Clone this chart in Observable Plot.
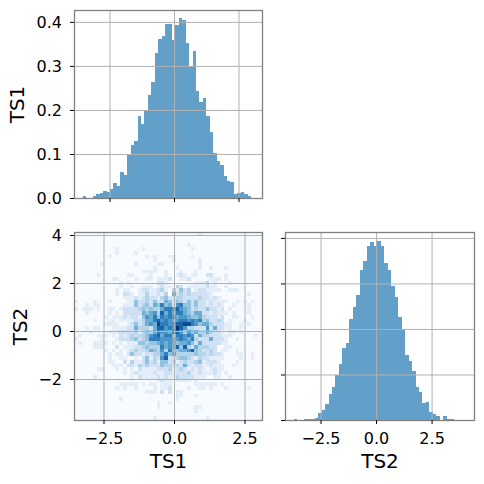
<!DOCTYPE html>
<html>
<head>
<meta charset="utf-8">
<script src="https://cdn.jsdelivr.net/npm/d3@7"></script>
<script src="https://cdn.jsdelivr.net/npm/@observablehq/plot@0.6"></script>
<style>
html,body{margin:0;padding:0;background:#fff;}
#c{position:relative;width:484px;height:484px;overflow:hidden;font-family:"DejaVu Sans";}
#c svg{position:absolute;overflow:visible;background:transparent;}
</style>
</head>
<body>
<div id="c"></div>
<script>
const ts1Density = [.005,0,0,.005,.008,.011,.017,.014,.020,.033,.028,.060,.053,.099,.121,.130,.187,.169,.200,.233,.264,.330,.362,.367,.395,.396,.358,.392,.408,.405,.351,.299,.335,.244,.219,.228,.187,.151,.103,.083,.076,.051,.039,.037,.010,.011,.014,.010,.005,0];
const ts2Density = [.003,0,0,.003,.003,.003,.005,.016,.023,.036,.058,.073,.098,.124,.159,.170,.221,.249,.275,.330,.350,.382,.390,.383,.394,.382,.344,.330,.295,.271,.227,.198,.142,.130,.108,.073,.062,.038,.040,.018,.014,.009,0,.009,.003,.003,0,0,0,0];
const ts1Start = -3.546, ts1BinWidth = 0.1333;
const ts2Start = -3.708, ts2BinHeight = 0.1567;
const ts1DiagTicks = [-2.5,0,2.5];
const ts2DiagTicks = [-2.5,0,2.5];
const densityTicks1 = [0,.1,.2,.3,.4];
const densityTicks2 = [0,.1,.2,.3,.4];
const jointXTicks = [-2.5,0,2.5];
const jointYTicks = [-2,0,2,4];
// joint histogram counts: one entry per row from the top, {column: count}
const jointRows = [
{33:1},
{},
{},
{30:1},
{11:1,18:1,31:1},
{11:1,16:1},
{9:1,19:1,21:1,25:1,26:1,31:1},
{21:1,26:1,33:1},
{7:1,16:1,22:1,23:1,33:1},
{21:1,27:1,33:1,36:1,40:1},
{18:1,19:1,20:1,21:1,24:1,28:1,32:1},
{6:1,14:1,15:1,20:1,24:1,27:1,28:2,29:1,31:1,32:1,35:2,36:2,40:1},
{10:1,11:1,16:1,19:1,20:1,22:1,23:1,24:1,25:2,28:1,29:1,30:2,36:1,37:1,38:1,40:1},
{12:1,14:1,22:2,23:2,24:1,32:1,33:1,34:1,35:3,37:1,41:1},
{12:1,15:1,18:1,19:1,20:1,22:1,23:2,24:1,25:1,27:3,28:2,30:1,31:1,32:1,33:1,34:1,35:2,36:1,37:1,40:1},
{11:1,13:1,14:1,17:1,18:2,19:2,20:1,21:1,22:2,23:3,24:1,26:3,27:1,28:4,29:2,30:3,32:1,33:2,34:2,35:1,36:1,37:1,38:1,41:1,42:1,43:1},
{11:1,13:2,14:2,15:1,17:1,18:1,19:3,20:1,21:1,22:2,23:1,24:3,26:5,27:2,28:3,29:2,30:3,31:2,32:2,33:2,34:2,35:2,36:1,46:1},
{13:1,14:1,15:1,16:2,17:1,18:2,19:3,20:2,21:2,22:1,23:3,24:4,25:2,26:2,27:3,28:3,29:2,30:2,31:2,32:2,33:3,34:2,35:2,36:1,37:2,38:1},
{0:1,5:1,9:1,14:1,15:1,16:4,17:2,18:2,19:3,20:2,21:4,22:2,23:2,24:5,25:4,26:2,27:4,28:3,29:2,30:4,31:2,32:4,33:2,34:2,35:1,36:2,37:1,38:1,39:1,40:1,43:1,45:1,47:1},
{3:1,5:1,6:1,13:1,14:1,15:1,16:4,17:2,18:3,19:4,20:2,21:5,22:4,23:7,24:4,25:5,26:2,27:6,28:7,29:4,30:4,31:2,32:4,33:2,34:2,35:1,36:2,37:1,38:2,39:1,42:1,46:1},
{0:1,2:1,3:1,4:1,6:1,9:1,10:1,12:1,13:2,14:2,15:2,16:2,17:3,18:4,19:3,20:4,21:3,22:3,23:5,24:7,25:7,26:6,27:8,28:6,29:5,30:4,31:2,32:3,33:2,34:2,35:4,36:2,37:2,38:1,39:2,41:1,46:1},
{3:1,9:1,11:1,13:2,14:2,15:2,16:2,17:2,18:5,19:4,20:5,21:6,22:3,23:8,24:5,25:7,26:5,27:7,28:7,29:5,30:4,31:3,32:5,33:5,34:2,35:2,36:1,37:2,38:1,39:1,40:1,42:1,46:1},
{8:1,10:1,11:1,12:1,13:2,14:1,15:2,16:2,17:1,18:4,19:6,20:5,21:7,22:4,23:7,24:6,25:7,26:6,27:5,28:6,29:6,30:5,31:4,32:4,33:5,34:3,35:2,36:2,37:2,38:1,39:2,42:1,43:1,47:1},
{5:1,9:1,10:1,12:1,13:1,14:1,15:1,16:2,17:2,18:3,19:5,20:5,21:7,22:8,23:6,24:7,25:6,26:5,27:6,28:7,29:7,30:6,31:7,32:6,33:7,34:3,35:4,36:2,37:2,38:3,39:2,41:1,45:1},
{8:1,9:1,10:1,11:1,14:1,15:2,16:4,17:2,18:3,19:5,20:6,21:5,22:9,23:7,24:7,25:6,26:6,27:8,28:8,29:9,30:9,31:7,32:6,33:4,34:5,35:5,36:3,37:2,38:2,39:2,40:1,41:1,44:1,46:1},
{3:1,5:1,6:1,10:1,11:1,12:1,13:1,14:2,15:2,16:5,17:3,18:3,19:3,20:2,21:5,22:8,23:8,24:6,25:7,26:6,27:10,28:8,29:6,30:3,31:3,32:2,33:2,34:2,35:6,36:2,37:5,38:2,39:2,40:1,41:1,44:1},
{4:1,9:1,10:1,11:1,12:2,13:2,14:2,15:2,16:3,17:1,18:3,19:4,20:3,21:5,22:7,23:6,24:6,25:5,26:7,27:8,28:6,29:3,30:6,31:4,32:5,33:3,34:3,35:5,36:3,37:2,38:2,39:1,41:1,42:1,44:1},
{1:1,6:1,7:1,8:1,10:1,12:2,13:1,14:2,15:3,16:2,17:3,18:3,19:4,20:6,21:7,22:8,23:5,24:7,25:7,26:4,27:7,28:7,29:6,30:7,31:6,32:2,33:5,34:3,35:3,36:2,37:2,38:2,39:1,40:1,41:1,48:1},
{0:1,7:1,11:1,12:2,13:2,14:2,15:3,16:4,17:2,18:3,19:4,20:7,21:7,22:7,23:6,24:6,25:6,26:5,27:6,28:7,29:6,30:5,31:7,32:3,33:2,34:2,35:2,36:5,37:2,38:2,39:2,40:1,43:1},
{1:1,5:1,6:1,7:1,8:1,10:1,12:1,14:1,15:1,16:1,17:4,18:4,19:3,20:4,21:4,22:5,23:6,24:5,25:6,26:5,27:4,28:5,29:5,30:6,31:4,32:2,33:5,34:2,35:2,36:2,37:2,38:2,39:1,40:1},
{5:1,6:1,7:1,11:2,13:1,14:1,15:1,16:2,17:2,18:3,19:4,20:3,21:3,22:3,23:7,24:5,25:6,26:5,27:8,28:4,29:8,30:3,31:2,32:5,33:3,34:3,35:3,36:2,37:2,40:1,41:1},
{8:1,10:1,12:1,14:1,15:2,16:3,17:2,18:2,19:3,20:5,21:4,22:3,23:6,24:3,25:7,26:4,27:4,28:5,29:5,30:6,31:8,32:4,33:3,34:2,35:2,36:3,37:2,39:1,40:1,43:1},
{9:1,11:1,12:1,14:2,15:4,16:2,17:2,18:1,19:2,20:2,21:3,22:3,23:5,24:7,25:4,26:5,27:3,28:3,29:3,30:3,31:3,32:4,33:3,34:3,35:2,36:3,37:2,38:2,39:1,43:1,44:1,47:1},
{9:1,12:1,13:1,16:1,18:2,19:4,20:1,21:3,22:2,23:6,24:8,25:2,26:2,27:3,28:4,29:4,30:3,31:2,32:1,33:3,34:2,35:2,36:1,37:1,38:1,39:1,44:1,47:1},
{9:1,10:1,13:2,15:3,16:1,17:1,18:2,19:4,20:2,21:3,22:1,23:4,24:4,25:2,26:3,27:1,28:2,29:3,30:2,31:2,32:3,33:4,34:1,35:2,36:2,37:2,38:1,43:1},
{10:1,11:1,12:1,14:2,15:2,16:1,17:3,18:2,19:3,20:2,21:2,22:2,23:4,24:3,25:3,26:2,27:3,28:2,29:5,30:2,31:1,32:2,33:2,34:1,35:1,36:2,37:1,38:1,39:1,42:1},
{6:1,7:1,11:1,13:1,15:1,17:2,18:1,19:1,20:1,21:1,22:2,23:2,24:2,25:3,26:1,27:2,28:3,29:2,30:1,31:2,32:1,33:2,34:1,36:1,37:2,38:1,39:1},
{13:1,15:1,16:2,17:1,18:1,19:1,20:1,21:2,22:1,23:1,24:2,25:2,26:1,27:2,28:2,29:2,30:3,31:1,32:1,33:2,34:1,35:1,36:1,37:2,38:1,40:1},
{5:1,15:1,17:2,18:1,19:1,20:1,21:1,22:2,23:1,24:2,25:1,26:1,27:3,28:2,29:2,30:2,31:2,32:1,33:1,34:1,37:1,38:1,41:1},
{22:1,23:2,24:1,25:1,27:1,28:1,29:1,30:1,32:1},
{12:1,13:1,14:1,15:1,16:1,18:1,20:1,21:1,23:1,24:1,25:1,32:1,33:1,34:1,35:1,36:1,37:1,39:1},
{11:1,13:1,16:1,21:1,23:1,24:1,25:2,30:1,33:1,34:1,36:1,40:1,46:1},
{19:1,20:1,21:1,23:2,25:2,27:1,28:1},
{27:1,28:1,32:1},
{12:1,27:1},
{22:1,25:1},
{22:1,32:1,33:1},
{32:1},
{},
{21:1,35:1}
];

const blue = "#1f77b4", gridColor = "#b0b0b0", frameColor = "#808080";
const fmt1 = d => d.toFixed(1).replace("-", "\u2212");
const fmt0 = d => String(d).replace("-", "\u2212");
const host = document.getElementById("c");
function place(p, left, top) {
  const svg = p.tagName.toLowerCase() === "svg" ? p : p.querySelector("svg");
  svg.style.left = left + "px"; svg.style.top = top + "px";
  host.appendChild(svg);
}
const common = {style:{fontFamily:"DejaVu Sans", background:"transparent", color:"#000", fontSize:"16px", overflow:"visible"}};
const axX = (ticks, labelled) => Plot.axisX(ticks, {tickSize:4, tickPadding:8, stroke:"#000", strokeOpacity:1, fill:"#000", fontSize:16, label:null, tickFormat: labelled ? fmt1 : () => ""});
const axY = (ticks, f) => Plot.axisY(ticks, {tickSize:4, tickPadding:8.5, stroke:"#000", strokeOpacity:1, fill:"#000", fontSize:16, label:null, tickFormat:f});
const grid = (xt, yt) => [
  Plot.gridX(xt, {stroke:gridColor, strokeOpacity:1, strokeWidth:1}),
  Plot.gridY(yt, {stroke:gridColor, strokeOpacity:1, strokeWidth:1})
];
const labelFont = {fontSize:20, fill:"#000"};

// top-left: TS1 histogram
const top1 = ts1Density.map((v,i)=>({x1:ts1Start+i*ts1BinWidth, x2:ts1Start+(i+1)*ts1BinWidth, y:v}));
place(Plot.plot({...common, width:270, height:222, marginLeft:74, marginRight:8, marginTop:10, marginBottom:24,
  x:{domain:[-3.876,3.411]}, y:{domain:[0,0.427]},
  marks:[
    Plot.rectY(top1.filter(d=>d.y>0), {x1:"x1", x2:"x2", y:"y", fill:blue, fillOpacity:.7, inset:0, shapeRendering:"crispEdges"}),
    ...grid(ts1DiagTicks, densityTicks1),
    Plot.frame({stroke:frameColor, strokeWidth:1.3}),
    axX(ts1DiagTicks,false), axY(densityTicks1, fmt1),
    Plot.text(["TS1"], {frameAnchor:"left", textAnchor:"middle", dx:-57, rotate:-90, ...labelFont})
  ]}), 0, 0);

// bottom-left: joint histogram
const cells = jointRows.flatMap((row,j)=>Object.entries(row).map(([i,c])=>({
  x1:ts1Start+ +i*ts1BinWidth, x2:ts1Start+(+i+1)*ts1BinWidth,
  y2:4.125-j*ts2BinHeight, y1:4.125-(j+1)*ts2BinHeight, c
})));
place(Plot.plot({...common, width:270, height:262, marginLeft:74, marginRight:8, marginTop:10, marginBottom:64,
  x:{domain:[-3.546,3.12]}, y:{domain:[-3.708,4.125]},
  color:{type:"linear", scheme:"blues", domain:[0,10]},
  marks:[
    Plot.frame({fill:"#f7fbff"}),
    Plot.rect(cells, {x1:"x1", x2:"x2", y1:"y1", y2:"y2", fill:"c", inset:0, shapeRendering:"crispEdges"}),
    ...grid(jointXTicks, jointYTicks),
    Plot.frame({stroke:frameColor, strokeWidth:1.3}),
    axX(jointXTicks,true), axY(jointYTicks, fmt0),
    Plot.text(["TS1"], {frameAnchor:"bottom", dy:47, ...labelFont}),
    Plot.text(["TS2"], {frameAnchor:"left", textAnchor:"middle", dx:-54, rotate:-90, ...labelFont})
  ]}), 0, 222);

// bottom-right: TS2 histogram
const right = ts2Density.map((v,i)=>({x1:ts2Start+i*ts2BinHeight, x2:ts2Start+(i+1)*ts2BinHeight, y:v}));
place(Plot.plot({...common, width:214, height:262, marginLeft:15, marginRight:10, marginTop:10, marginBottom:64,
  x:{domain:[-4.10,4.41]}, y:{domain:[0,0.413]},
  marks:[
    Plot.rectY(right.filter(d=>d.y>0), {x1:"x1", x2:"x2", y:"y", fill:blue, fillOpacity:.7, inset:0, shapeRendering:"crispEdges"}),
    ...grid(ts2DiagTicks, densityTicks2),
    Plot.frame({stroke:frameColor, strokeWidth:1.3}),
    axX(ts2DiagTicks,true), axY(densityTicks2, ()=> ""),
    Plot.text(["TS2"], {frameAnchor:"bottom", dy:47, ...labelFont})
  ]}), 270, 222);
</script>
</body>
</html>
